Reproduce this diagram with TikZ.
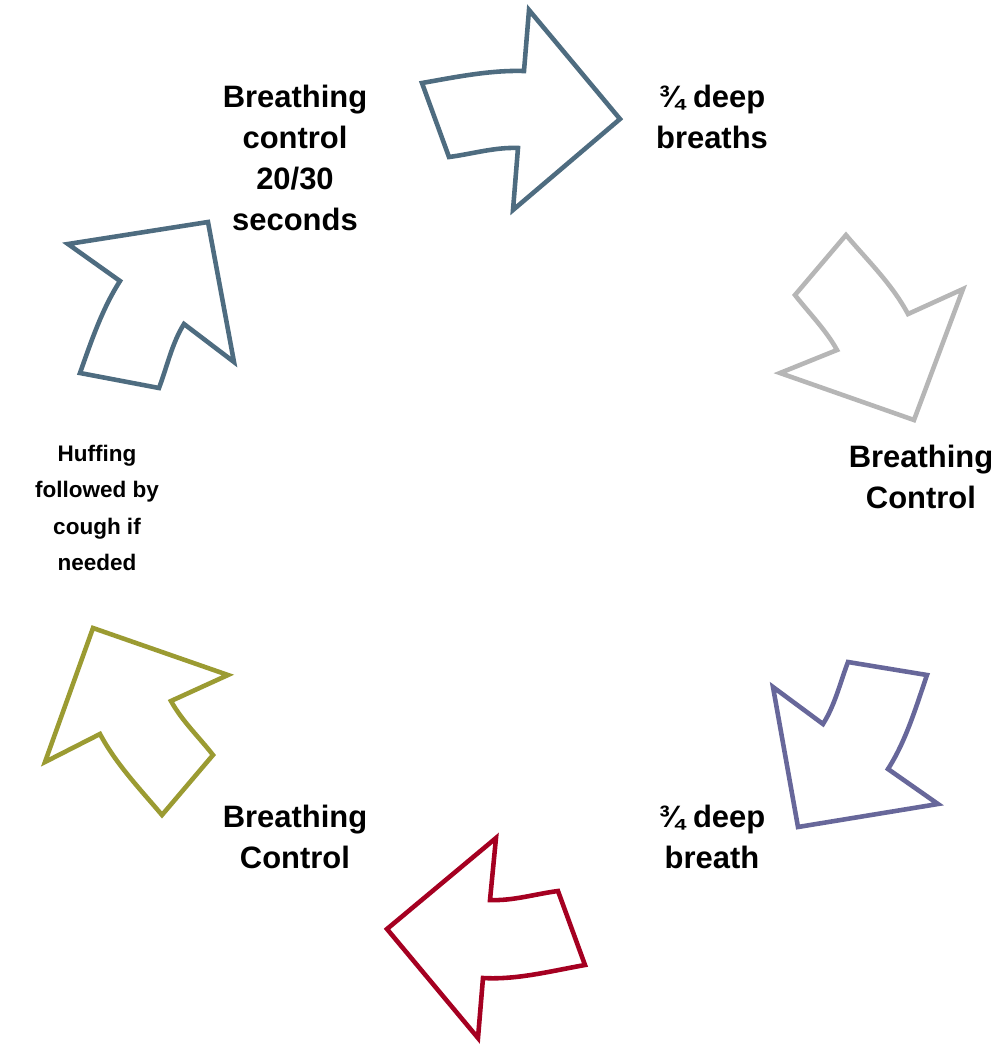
\documentclass[tikz,border=0pt]{standalone}
\usepackage{fontspec}
\setmainfont{Liberation Sans}
\usepackage{tikz}

\definecolor{slate}{RGB}{78,108,128}
\definecolor{lgray}{RGB}{182,182,182}
\definecolor{lilac}{RGB}{103,103,154}
\definecolor{crimson}{RGB}{165,0,33}
\definecolor{olive}{RGB}{155,155,50}

\begin{document}
\begin{tikzpicture}[x=0.01cm, y=-0.01cm,
        arr/.style={draw=#1, line width=1.3pt, line join=miter, fill=white},
        lbl/.style={align=center, font=\fontsize{8.8}{11.7}\selectfont\bfseries, inner sep=0pt},
        small/.style={align=center, font=\fontsize{6.4}{10.4}\selectfont\bfseries, inner sep=0pt}]
                \useasboundingbox (0,0) rectangle (1001,1044);

                \draw[arr=slate] (422,83) .. controls (456,77) and (490,70) .. (524,71)
                    -- (529,10) -- (620,119) -- (513,210) -- (518,148)
                    .. controls (495,147) and (472,154) .. (449,157) -- cycle;
                \draw[arr=lgray] (846,235) -- (795,295)
                    .. controls (809,313) and (826,330) .. (837,350)
                    -- (780,373) -- (914,420) -- (963,289) -- (908,314)
                    .. controls (892,284) and (868,261) .. cycle;
                \draw[arr=lilac] (848,662) -- (927,675)
                    .. controls (916,707) and (906,741) .. (888,769)
                    -- (938,804) -- (798,827) -- (773,687) -- (823,724)
                    .. controls (835,705) and (840,683) .. cycle;
                \draw[arr=crimson] (496,838) -- (387,929) -- (478,1038) -- (483,978)
                    .. controls (517,980) and (551,971) .. (585,965)
                    -- (558,891) .. controls (535,894) and (513,901) .. (490,900) -- cycle;
                \draw[arr=olive] (93,628) -- (228,675) -- (171,701)
                    .. controls (182,721) and (199,737) .. (213,755)
                    -- (162,815) .. controls (140,789) and (116,764) .. (100,734)
                    -- (45,762) -- cycle;
                \draw[arr=slate] (68,244) -- (208,222) -- (234,362) -- (184,324)
                    .. controls (172,343) and (167,367) .. (159,388)
                    -- (80,373) .. controls (91,342) and (102,309) .. (120,281) -- cycle;

                \node[lbl] (ctrl1) at (295,158) {Breathing\\control\\20/30\\seconds};
                \node[lbl] (deep1) at (712,117) {¾ deep\\breaths};
                \node[lbl] (ctrl2) at (921,477) {Breathing\\Control};
                \node[lbl] (deep2) at (712,837) {¾ deep\\breath};
                \node[lbl] (ctrl3) at (295,837) {Breathing\\Control};
                \node[small] (huff) at (97,508) {Huffing\\followed by\\cough if\\needed};
            \end{tikzpicture}
\end{document}
